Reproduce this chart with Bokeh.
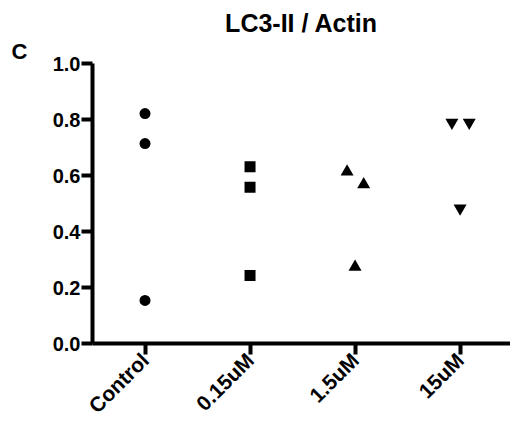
from bokeh.plotting import figure
from bokeh.models import FixedTicker, PrintfTickFormatter, Range1d, Title
from bokeh.embed import file_html
from bokeh.resources import INLINE
import math

# LC3-II / Actin ratio per treatment group
groups = ["Control", "0.15uM", "1.5uM", "15uM"]
control = [0.821, 0.714, 0.154]
dose_015 = [0.631, 0.558, 0.243]
dose_15 = [0.613, 0.568, 0.273]
dose_150 = [0.789, 0.789, 0.483]

FONT = "Liberation Sans"

p = figure(width=510, height=428, output_backend="svg", toolbar_location=None,
           x_range=Range1d(0.5, 4.48), y_range=Range1d(0, 1.0),
           min_border_left=92, min_border_right=0, min_border_top=63,
           min_border_bottom=84)
p.outline_line_color = None
p.xgrid.visible = False
p.ygrid.visible = False
p.background_fill_color = "white"
p.border_fill_color = "white"

# horizontal spread of overlapping points within a column
spread = {
    "Control": [0, 0, 0],
    "0.15uM": [0, 0, 0],
    "1.5uM": [-0.076, 0.082, 0],
    "15uM": [-0.078, 0.087, 0],
}
series = [
    ("Control", control, "circle", 11),
    ("0.15uM", dose_015, "square", 11),
    ("1.5uM", dose_15, "triangle", 13),
    ("15uM", dose_150, "inverted_triangle", 13),
]
for name, vals, marker, size in series:
    gx = groups.index(name) + 1
    xs = [gx + d for d in spread[name]]
    p.scatter(xs, vals, marker=marker, size=size, fill_color="black",
              line_color="black", line_width=0)

for ax in (p.xaxis[0], p.yaxis[0]):
    ax.axis_line_width = 4
    ax.major_tick_line_width = 4
    ax.major_tick_out = 11
    ax.major_tick_in = 0
    ax.minor_tick_line_color = None
    ax.major_label_text_font = FONT
    ax.major_label_text_font_style = "bold"
    ax.major_label_text_color = "black"

p.yaxis.major_label_text_font_size = "20px"
p.yaxis.ticker = FixedTicker(ticks=[0, 0.2, 0.4, 0.6, 0.8, 1.0])
p.yaxis.formatter = PrintfTickFormatter(format="%.1f")
p.yaxis.major_label_standoff = 1

p.xaxis.major_label_text_font_size = "21px"
p.xaxis.ticker = FixedTicker(ticks=[1, 2, 3, 4])
p.xaxis.major_label_overrides = {i + 1: g for i, g in enumerate(groups)}
p.xaxis.major_label_orientation = math.pi / 4
p.xaxis.major_label_standoff = 2

# panel letter (nearest the plot) and heading above it
p.add_layout(Title(text="C", align="left", offset=-81, standoff=0,
                   vertical_align="bottom", text_line_height=0.6,
                   text_font=FONT, text_font_style="bold",
                   text_font_size="22px", text_color="black"), "above")
p.add_layout(Title(text="LC3-II / Actin", align="center", standoff=0,
                   text_font=FONT, text_font_style="bold",
                   text_font_size="25px", text_color="black"), "above")

open("out.html", "w").write(file_html(p, INLINE))
